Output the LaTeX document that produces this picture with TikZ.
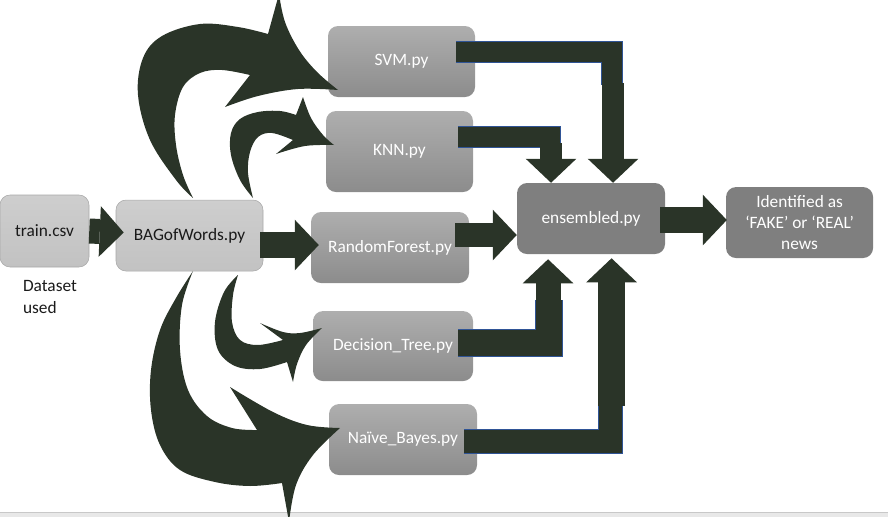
\documentclass[tikz,border=0pt]{standalone}
\usepackage{fontspec}
\setmainfont{Carlito}
\usetikzlibrary{arrows.meta,positioning,calc}

\definecolor{leaf}{RGB}{42,52,40}
\definecolor{navyedge}{RGB}{47,84,150}
\definecolor{paletop}{RGB}{206,206,206}
\definecolor{palebottom}{RGB}{194,194,194}
\definecolor{paleedge}{RGB}{168,168,168}
\definecolor{midtop}{RGB}{174,174,174}
\definecolor{midbottom}{RGB}{140,140,140}
\definecolor{darkface}{RGB}{127,127,127}
\definecolor{inktext}{RGB}{26,26,26}
\definecolor{stripfill}{RGB}{232,232,232}
\definecolor{stripedge}{RGB}{200,200,200}

\begin{document}
\begin{tikzpicture}[x=0.75pt,y=-0.75pt,on grid,node distance=1cm,
  font=\fontsize{13}{16}\selectfont]
\useasboundingbox (0,0) rectangle (888,517);
\clip (0,0) rectangle (888,517);
\fill[stripfill] (0,512) rectangle (888,517);
\draw[stripedge] (0,512) -- (888,512);

\tikzset{palebox/.style={rectangle,rounded corners=7.5pt,inner sep=0pt,draw=paleedge,
  top color=paletop,bottom color=palebottom,text=inktext,minimum height=53.25pt}}
\tikzset{midbox/.style={rectangle,rounded corners=7.5pt,inner sep=0pt,top color=midtop,
  bottom color=midbottom,text=white,minimum width=110.25pt,minimum height=53.25pt}}
\tikzset{darkbox/.style={rectangle,rounded corners=7.5pt,inner sep=0pt,fill=darkface,
  text=white,minimum width=111pt,minimum height=53.25pt,align=center}}

  \node[palebox,minimum width=66.75pt,minimum height=54pt] (train) at (44.5,231) {train.csv};
  \node[palebox,minimum width=110.25pt] (bag)   [below right=3.4pt and 108.75pt of train] {BAGofWords.py};
  \node[midbox,minimum width=118.5pt]   (rf)    [below right=9pt and 150.4pt of bag]     {RandomForest.py};
  \node[midbox,minimum height=60.75pt]  (knn)   [above right=72pt and 7.1pt of rf]       {KNN.py};
  \node[midbox]                         (svm)   [above right=67.5pt and 1.5pt of knn]    {SVM.py};
  \node[midbox,minimum width=120pt,minimum height=52.5pt] (dt) [below right=73.9pt and 2.25pt of rf] {Decision\_Tree.py};
  \node[midbox,minimum width=111pt]     (nb)    [below right=70.1pt and 7.5pt of dt]     {Naïve\_Bayes.py};
  \node[darkbox]                        (ens)   [above right=21.75pt and 150.75pt of rf] {ensembled.py};
  \node[darkbox,minimum width=110.25pt] (ident) [below right=3pt and 156.4pt of ens]     {Identified as\\‘FAKE’ or ‘REAL’\\news};
  \node[align=left,text=inktext]        (note)  [below right=49.5pt and 4.1pt of train]  {Dataset\\used};

\tikzset{fat/.style={draw=leaf,line width=#1,-{Triangle[length=18pt,width=38pt,line width=0pt]}}}
\tikzset{elbow/.style={draw=navyedge,line width=0.6pt,double=leaf,double distance=#1,line join=miter}}
\path (train.east)                  edge [fat=18.75pt] ($(train.east -| bag.west)+(8,1.5)$)
      ($(bag.east)+(-3,9.5)$)       edge [fat=19.5pt]  ($(rf.west)+(8,-2.5)$)
      ($(rf.east)+(-14,-12.5)$)     edge [fat=18pt]    ($(ens.west)+(0,16.5)$)
      ($(ens.east)+(-5,1.5)$)       edge [fat=19.5pt]  ($(ident.west)+(1,-2.5)$);

\draw[elbow=15.3pt] ($(svm.east)+(-19,-9.5)$) -| ($(ens.north)+(21,-98)$);
\draw[elbow=15.3pt] ($(knn.east)+(-15,-14.5)$) -| ($(ens.north)+(-41,-38)$);
\draw[elbow=19.8pt] ($(dt.east)+(-15,-3)$)    -| ($(ens.south)+(-42,46)$);
\draw[elbow=17.5pt] ($(nb.east)+(-13,2)$)     -| ($(ens.south)+(19.5,150)$);
\path ($(ens.north)+(22,-100)$)  edge [fat=16.5pt]  ($(ens.north)+(22,0)$)
      ($(ens.north)+(-40,-40)$)  edge [fat=17pt]    ($(ens.north)+(-40,0)$)
      ($(ens.south)+(-43,48)$)   edge [fat=18.75pt] ($(ens.south)+(-43,5)$)
      ($(ens.south)+(20.5,152)$) edge [fat=20pt]    ($(ens.south)+(20.5,4)$);

% curved arrows out of BAGofWords.py
\fill[leaf] plot[smooth,tension=0.6] coordinates {(193,198) (176,180) (150,140) (138,95) (143,58) (162,36) (200,24) (238,27) (268,34)}
  -- (279,-6)
  -- plot[smooth,tension=0.6] coordinates {(279,-6) (285,22) (299,50) (317,72) (338,90)}
  -- plot[smooth,tension=0.6] coordinates {(338,90) (298,89) (258,96) (225,107)}
  -- (250,75)
  -- plot[smooth,tension=0.6] coordinates {(250,75) (222,70) (200,73) (183,87) (175,115) (176,145) (183,175) (193,198)}
  -- cycle;
\fill[leaf] plot[smooth,tension=0.6] coordinates {(253,198) (240,180) (231,155) (231,133) (240,119) (258,112) (280,111) (296,115)}
  -- (303,97)
  -- plot[smooth,tension=0.6] coordinates {(303,97) (311,118) (323,135) (334,145)}
  -- plot[smooth,tension=0.6] coordinates {(334,145) (305,146) (276,154)}
  -- (293,140)
  -- plot[smooth,tension=0.6] coordinates {(293,140) (272,133) (258,137) (250,152) (248,173) (253,198)}
  -- cycle;
\fill[leaf] plot[smooth,tension=0.6] coordinates {(238,275) (224,292) (215,322) (218,350) (235,366) (260,369) (287,362)}
  -- (293,382)
  -- plot[smooth,tension=0.6] coordinates {(293,382) (297,364) (306,345) (322,328)}
  -- plot[smooth,tension=0.6] coordinates {(322,328) (300,333) (283,332) (260,323)}
  -- (283,340)
  -- plot[smooth,tension=0.6] coordinates {(283,340) (258,345) (240,340) (232,322) (233,295) (238,275)}
  -- cycle;
\fill[leaf] plot[smooth,tension=0.6] coordinates {(193,271) (176,298) (160,330) (151,370) (151,410) (160,445) (180,470) (215,482) (250,486) (282,483)}
  -- (289,522)
  -- plot[smooth,tension=0.6] coordinates {(289,522) (296,485) (313,455) (340,428)}
  -- plot[smooth,tension=0.6] coordinates {(340,428) (307,425) (273,412) (230,387)}
  -- (257,430)
  -- plot[smooth,tension=0.6] coordinates {(257,430) (232,428) (207,416) (188,390) (180,350) (182,305) (193,271)}
  -- cycle;
\end{tikzpicture}
\end{document}
